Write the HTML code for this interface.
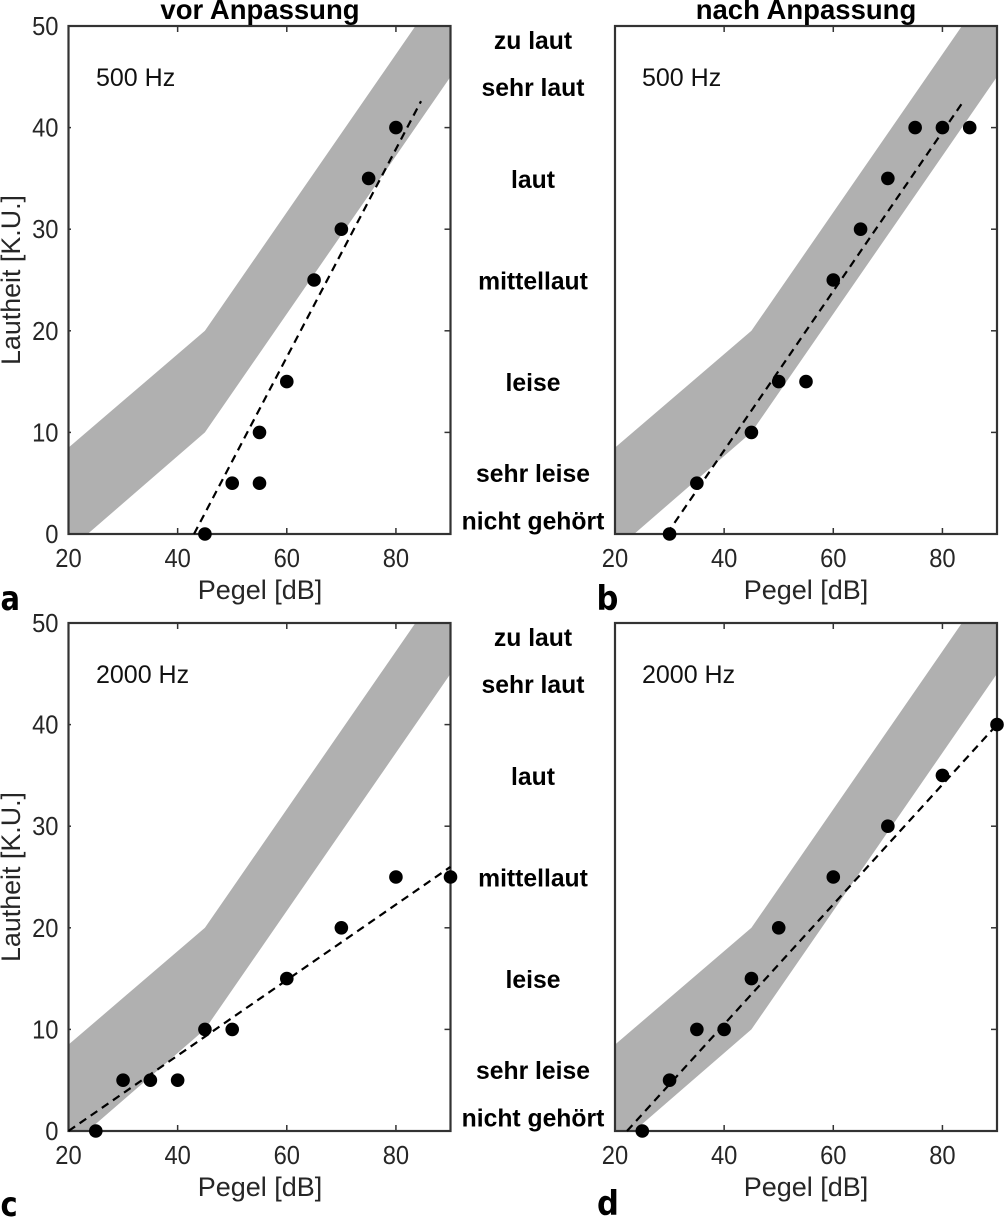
<!DOCTYPE html>
<html lang="de">
<head>
<meta charset="utf-8">
<title>Lautheit vor und nach Anpassung</title>
<style>
html,body{margin:0;padding:0;background:#fff;}
svg{display:block;}
text{font-family:"Liberation Sans",Arial,sans-serif;}
.cat{font-weight:bold;font-size:24.7px;fill:#000;text-anchor:middle;}
.title{font-weight:bold;font-size:27.5px;fill:#000;text-anchor:middle;}
.tick{font-size:25.5px;fill:#262626;}
.axis{font-size:27px;fill:#262626;text-anchor:middle;}
.freq{font-size:25px;fill:#111;}
.letter{font-family:"DejaVu Sans",sans-serif;font-weight:bold;font-size:34px;fill:#000;}
</style>
</head>
<body>
<svg id="chart" xmlns="http://www.w3.org/2000/svg" width="1004" height="1217" viewBox="0 0 1004 1217">
  <rect x="0" y="0" width="1004" height="1217" fill="#fff"/>
  <g id="plots"></g>

  <text class="title" x="260" y="19">vor Anpassung</text>
  <text class="title" x="806" y="19">nach Anpassung</text>

  <text class="freq" x="96" y="86">500 Hz</text>
  <text class="freq" x="642" y="86">500 Hz</text>
  <text class="freq" x="96" y="683">2000 Hz</text>
  <text class="freq" x="642" y="683">2000 Hz</text>

  <g>
    <text class="cat" x="533" y="49">zu laut</text>
    <text class="cat" x="533" y="96">sehr laut</text>
    <text class="cat" x="533" y="188">laut</text>
    <text class="cat" x="533" y="289.5">mittellaut</text>
    <text class="cat" x="533" y="391">leise</text>
    <text class="cat" x="533" y="482">sehr leise</text>
    <text class="cat" x="533" y="529.5">nicht gehört</text>
  </g>
  <g>
    <text class="cat" x="533" y="646">zu laut</text>
    <text class="cat" x="533" y="693">sehr laut</text>
    <text class="cat" x="533" y="785">laut</text>
    <text class="cat" x="533" y="886.5">mittellaut</text>
    <text class="cat" x="533" y="988">leise</text>
    <text class="cat" x="533" y="1079">sehr leise</text>
    <text class="cat" x="533" y="1126.5">nicht gehört</text>
  </g>

  <text class="axis" x="260" y="599">Pegel [dB]</text>
  <text class="axis" x="806" y="599">Pegel [dB]</text>
  <text class="axis" x="260" y="1196">Pegel [dB]</text>
  <text class="axis" x="806" y="1196">Pegel [dB]</text>

  <text class="axis" transform="translate(20 280) rotate(-90)" textLength="170" lengthAdjust="spacingAndGlyphs">Lautheit [K.U.]</text>
  <text class="axis" transform="translate(20 877) rotate(-90)" textLength="170" lengthAdjust="spacingAndGlyphs">Lautheit [K.U.]</text>

  <text class="letter" transform="translate(0.5 610) scale(0.85 1)">a</text>
  <text class="letter" transform="translate(596.5 610) scale(0.9 1)">b</text>
  <text class="letter" transform="translate(0.5 1216) scale(0.85 1)">c</text>
  <text class="letter" transform="translate(597 1215) scale(0.9 1)">d</text>
</svg>
<script>
// Axis ticks
const xTicks = [20, 40, 60, 80];
const yTicks = [0, 10, 20, 30, 40, 50];

// Reference loudness band (shared by all panels)
const bandUpperLevel = [20, 45, 90];
const bandUpperLoudness = [8.5, 20, 55];
const bandLowerLevel = [90, 45, 23.5, 20];
const bandLowerLoudness = [45, 10, 0, 0];

// Panel a: vor Anpassung, 500 Hz
const levelA = [45, 50, 55, 55, 60, 65, 70, 75, 80];
const loudnessA = [0, 5, 5, 10, 15, 25, 30, 35, 40];
const fitLevelA = [43, 84.6];
const fitLoudnessA = [0, 42.6];

// Panel b: nach Anpassung, 500 Hz
const levelB = [30, 35, 45, 50, 55, 60, 65, 70, 75, 80, 85];
const loudnessB = [0, 5, 10, 15, 15, 25, 30, 35, 40, 40, 40];
const fitLevelB = [29.5, 83.6];
const fitLoudnessB = [0, 42.4];

// Panel c: vor Anpassung, 2000 Hz
const levelC = [25, 30, 35, 40, 45, 50, 60, 70, 80, 90];
const loudnessC = [0, 5, 5, 5, 10, 10, 15, 20, 25, 25];
const fitLevelC = [20, 90];
const fitLoudnessC = [0, 26];

// Panel d: nach Anpassung, 2000 Hz
const levelD = [25, 30, 35, 40, 45, 50, 60, 70, 80, 90];
const loudnessD = [0, 5, 10, 10, 15, 20, 25, 30, 35, 40];
const fitLevelD = [22.2, 90];
const fitLoudnessD = [0, 40];

const NS = 'http://www.w3.org/2000/svg';
const root = document.getElementById('plots');
const xMin = 20, xMax = 90, yMin = 0, yMax = 50;
const plotW = 382, plotH = 508;

function make(tag, attrs, parent) {
  const el = document.createElementNS(NS, tag);
  for (const k in attrs) el.setAttribute(k, attrs[k]);
  parent.appendChild(el);
  return el;
}

function drawPanel(id, left, top, levels, loudness, fitX, fitY, showYLabels) {
  const sx = v => left + (v - xMin) / (xMax - xMin) * plotW;
  const sy = v => top + plotH - (v - yMin) / (yMax - yMin) * plotH;

  const g = make('g', {}, root);
  
  

  const defs = make('defs', {}, g);
  const clip = make('clipPath', { id: 'clip-' + id }, defs);
  make('rect', { x: left, y: top, width: plotW, height: plotH }, clip);

  const pts = [];
  bandUpperLevel.forEach((x, i) => pts.push(sx(x) + ',' + sy(bandUpperLoudness[i])));
  bandLowerLevel.forEach((x, i) => pts.push(sx(x) + ',' + sy(bandLowerLoudness[i])));
  const band = make('polygon', { points: pts.join(' '), fill: '#b0b0b0', 'clip-path': 'url(#clip-' + id + ')' }, g);
  
  

  const frame = make('rect', { x: left, y: top, width: plotW, height: plotH, fill: 'none', stroke: '#333', 'stroke-width': 2.2 }, g);
  
  

  xTicks.forEach(t => {
    const x = sx(t);
    const b = make('line', { x1: x, x2: x, y1: top + plotH, y2: top + plotH - 6, stroke: '#333', 'stroke-width': 1.5 }, g);
    
    
    const u = make('line', { x1: x, x2: x, y1: top, y2: top + 6, stroke: '#333', 'stroke-width': 1.5 }, g);
    
    
    const lab = make('text', { x: x, y: top + plotH + 33, class: 'tick', 'text-anchor': 'middle', textLength: 13.2 * String(t).length, lengthAdjust: 'spacingAndGlyphs' }, g);
    
    
    lab.textContent = t;
  });

  yTicks.forEach(t => {
    const y = sy(t);
    const r = make('line', { x1: left + plotW, x2: left + plotW - 6, y1: y, y2: y, stroke: '#333', 'stroke-width': 1.5 }, g);
    
    
    if (showYLabels) {
      const l = make('line', { x1: left, x2: left + 2.5, y1: y, y2: y, stroke: '#333', 'stroke-width': 1.5 }, g);
      
      
      const lab = make('text', { x: left - 10, y: y + 9, class: 'tick', 'text-anchor': 'end', textLength: 13.2 * String(t).length, lengthAdjust: 'spacingAndGlyphs' }, g);
      
      
      lab.textContent = t;
    }
  });

  const fit = make('line', {
    x1: sx(fitX[0]), y1: sy(fitY[0]), x2: sx(fitX[1]), y2: sy(fitY[1]),
    stroke: '#000', 'stroke-width': 2.2, 'stroke-dasharray': '8 5.5'
  }, g);
  
  

  levels.forEach((x, i) => {
    const c = make('circle', { cx: sx(x), cy: sy(loudness[i]), r: 6.8, fill: '#000' }, g);
    
    
  });
}

drawPanel('a', 68.5, 26, levelA, loudnessA, fitLevelA, fitLoudnessA, true);
drawPanel('b', 615, 26, levelB, loudnessB, fitLevelB, fitLoudnessB, false);
drawPanel('c', 68.5, 623, levelC, loudnessC, fitLevelC, fitLoudnessC, true);
drawPanel('d', 615, 623, levelD, loudnessD, fitLevelD, fitLoudnessD, false);
</script>
</body>
</html>
